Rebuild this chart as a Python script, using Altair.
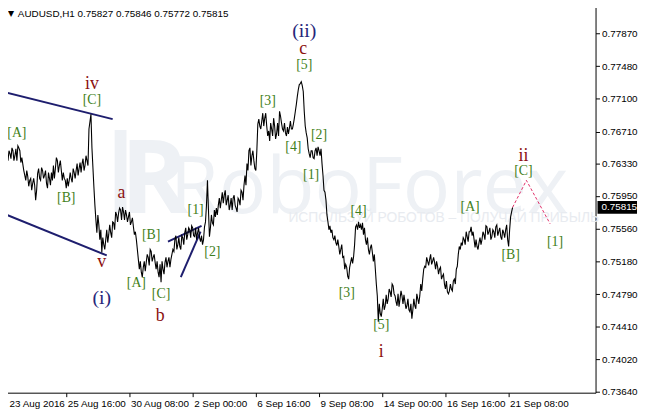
import altair as alt
import pandas as pd

# ---- price series (bar index, H1 close): main swing points ----
bars_main = [0,2,4,6,7,10,12,15,17,19,22,24,27,30,32,33,35,37,40,42,44,47,50,53,55,57,59,62,64,67,69,72,74,77,80,83,85,87,89,90,92,94,95,97,99,100,102,104,107,109,112,115,117,119,122,125,127,130,132,134,135,137,140,142,145,147,150,152,154,157,160,162,164,167,170,172,174,177,179,182,184,187,189,192,194,197,200,202,204,207,209,212,215,218,221,224,227,230,233,236,239,242,244,247,250,252,254,256,258,260,262,265,267,269,270,272,274,277,280,282,284,287,289,292,294,297,300,302,304,305,308,310,312,314,317,320,323,325,327,330,332,334,337,340,342,345,347,349,352,355,357,360,362,364,367,370,372,374,377,379,380,382,384,387,390,392,395,397,399,402,404,407,409,412,414,417,420,422,425,427,430,432,435,437,440,442,445,447,450,452,454,457,460,462,464,467,470,472,474,477,480,482,485,487,490,492,495,497,499,502,504,507,509,511,512,514,516]
closes_main = [0.76367,0.76460,0.76402,0.76484,0.76449,0.76484,0.76425,0.76542,0.76484,0.76402,0.76192,0.76250,0.76134,0.76099,0.76076,0.75901,0.76215,0.76157,0.76250,0.76192,0.76099,0.76157,0.76134,0.76274,0.76367,0.76309,0.76250,0.76157,0.76041,0.76134,0.76157,0.76227,0.76250,0.76274,0.76332,0.76309,0.76367,0.76740,0.76915,0.76518,0.76052,0.75668,0.75516,0.75609,0.75551,0.75283,0.75376,0.75435,0.75493,0.75516,0.75633,0.75726,0.75749,0.75784,0.75761,0.75726,0.75703,0.75644,0.75586,0.75528,0.75435,0.75201,0.75050,0.75108,0.75166,0.75225,0.75295,0.75225,0.75166,0.75050,0.74933,0.75085,0.75166,0.75178,0.75201,0.75318,0.75435,0.75376,0.75353,0.75458,0.75516,0.75493,0.75551,0.75574,0.75470,0.75516,0.75411,0.75376,0.75586,0.76134,0.75470,0.75633,0.75703,0.75842,0.75901,0.75959,0.75901,0.75842,0.75924,0.75807,0.75901,0.75994,0.76076,0.76332,0.76518,0.76425,0.76367,0.76250,0.76798,0.76775,0.76833,0.76868,0.76775,0.76717,0.76600,0.76740,0.76868,0.76682,0.76950,0.76810,0.76717,0.76658,0.76682,0.76740,0.76798,0.77031,0.77264,0.77299,0.77183,0.76950,0.76635,0.76449,0.76484,0.76402,0.76518,0.76484,0.76332,0.76017,0.75901,0.75551,0.75516,0.75458,0.75400,0.75353,0.75318,0.75236,0.75143,0.75003,0.75166,0.75236,0.75586,0.75644,0.75609,0.75633,0.75435,0.75318,0.75341,0.75283,0.75085,0.74770,0.74467,0.74560,0.74619,0.74654,0.74735,0.74817,0.74887,0.74770,0.74654,0.74735,0.74770,0.74700,0.74654,0.74584,0.74502,0.74654,0.74735,0.74770,0.74968,0.75120,0.75178,0.75201,0.75178,0.75166,0.75120,0.75085,0.75003,0.74910,0.74817,0.74829,0.74852,0.74968,0.75120,0.75353,0.75400,0.75435,0.75470,0.75528,0.75586,0.75435,0.75353,0.75400,0.75435,0.75493,0.75586,0.75528,0.75470,0.75528,0.75586,0.75528,0.75470,0.75516,0.75551,0.75435,0.75353,0.75703,0.75815]

# ---- intermediate hourly wiggles read between the swing points ----
bars_fine = [1,3,5,8,9,11,13,14,16,18,21,23,25,26,28,29,31,34,36,38,39,41,43,45,46,48,49,51,52,54,56,58,60,61,63,65,66,68,70,71,73,75,76,78,79,81,82,84,86,
             93,96,98,101,103,105,106,108,110,111,113,114,116,118,120,121,123,124,126,128,129,131,133,
             138,139,141,143,144,146,148,149,151,153,155,156,158,159,161,163,165,166,168,169,171,173,175,176,178,180,181,183,185,186,188,190,191,193,195,196,198,199,201,203,205,206,208,210,211,213,214,
             216,217,219,220,222,223,225,226,228,229,231,232,234,235,237,238,240,241,243,245,246,
             248,249,251,253,255,257,259,261,263,264,266,268,271,273,275,276,278,279,281,283,285,286,288,290,291,293,295,296,298,299,301,303,306,307,309,311,313,315,316,318,319,321,322,324,326,
             328,329,331,333,335,336,338,339,341,343,344,346,348,350,351,353,354,356,358,359,361,363,365,366,368,369,371,373,375,376,378,
             381,383,385,386,388,389,391,393,394,396,398,400,401,403,405,406,408,410,411,413,415,416,418,419,421,423,424,426,428,429,431,433,434,436,438,439,441,443,444,446,448,449,451,453,455,456,458,459,461,463,465,466,468,469,471,473,475,476,478,479,481,483,484,486,488,489,491,493,494,496,498,500,501,503,505,506,508,510,513,515]
closes_fine = [0.76309,0.76507,0.76367,0.76390,0.76518,0.76367,0.76507,0.76367,0.76518,0.76344,0.76250,0.76134,0.76181,0.76064,0.76157,0.76017,0.76157,0.76017,0.76274,0.76134,0.76285,0.76157,0.76250,0.76041,0.76227,0.76076,0.76227,0.76309,0.76157,0.76402,0.76227,0.76367,0.76134,0.76227,0.76134,0.76157,0.76064,0.76227,0.76111,0.76274,0.76157,0.76332,0.76192,0.76344,0.76227,0.76390,0.76250,0.76425,0.76309,
               0.75842,0.75726,0.75435,0.75458,0.75318,0.75551,0.75400,0.75609,0.75458,0.75644,0.75551,0.75761,0.75644,0.75807,0.75668,0.75819,0.75668,0.75784,0.75644,0.75761,0.75609,0.75691,0.75493,
               0.75085,0.75178,0.74992,0.75178,0.75062,0.75260,0.75131,0.75318,0.75178,0.75260,0.75085,0.75178,0.74992,0.75143,0.75178,0.75027,0.75225,0.75108,0.75225,0.75108,0.75260,0.75295,0.75481,0.75318,0.75458,0.75318,0.75481,0.75376,0.75574,0.75435,0.75574,0.75458,0.75598,0.75481,0.75574,0.75435,0.75574,0.75458,0.75481,0.75435,0.75644,0.75842,0.75784,0.75574,0.75726,0.75609,0.75784,
               0.75807,0.75726,0.75924,0.75807,0.75994,0.75866,0.76017,0.75842,0.75959,0.75784,0.75924,0.75784,0.75959,0.75842,0.75761,0.75924,0.75842,0.76017,0.75901,0.76192,0.76076,
               0.76250,0.76484,0.76309,0.76484,0.76274,0.76484,0.76857,0.76740,0.76927,0.76775,0.76927,0.76658,0.76810,0.76658,0.76775,0.76623,0.76810,0.76658,0.76891,0.76740,0.76810,0.76694,0.76763,0.76752,0.76833,0.76740,0.76868,0.76950,0.77125,0.77206,0.77276,0.77253,0.76775,0.76694,0.76507,0.76402,0.76484,0.76390,0.76484,0.76425,0.76530,0.76425,0.76507,0.76192,0.75994,
               0.75726,0.75644,0.75598,0.75551,0.75435,0.75481,0.75365,0.75435,0.75260,0.75376,0.75225,0.75085,0.75108,0.74968,0.75108,0.75225,0.75155,0.75376,0.75609,0.75551,0.75574,0.75551,0.75493,0.75574,0.75376,0.75458,0.75260,0.75376,0.75178,0.75260,0.74910,
               0.74677,0.74525,0.74735,0.74607,0.74782,0.74677,0.74852,0.74759,0.74910,0.74794,0.74700,0.74794,0.74642,0.74829,0.74677,0.74782,0.74619,0.74735,0.74607,0.74677,0.74607,0.74735,0.74619,0.74794,0.74677,0.74910,0.74829,0.75085,0.75108,0.75225,0.75131,0.75260,0.75143,0.75225,0.75085,0.75178,0.75027,0.75108,0.74968,0.75027,0.74852,0.74945,0.74794,0.74910,0.74829,0.74945,0.74910,0.75085,0.75260,0.75318,0.75365,0.75458,0.75376,0.75528,0.75411,0.75528,0.75481,0.75528,0.75341,0.75435,0.75318,0.75458,0.75376,0.75528,0.75435,0.75598,0.75493,0.75574,0.75435,0.75551,0.75458,0.75609,0.75481,0.75574,0.75435,0.75551,0.75458,0.75609,0.75551,0.75761]

# ---- projection (dashed) ----
proj_bars = [516, 530, 554]
proj_prices = [0.75815, 0.76134, 0.75621]

# ---- trend / channel lines: (id, bar, price) ----
line_ids = ["up", "up", "lo", "lo", "w1", "w1", "w2", "w2"]
line_bars = [-1, 111, -1, 105, 167, 201, 180, 200]
line_prices = [0.77183, 0.76857, 0.75749, 0.75248, 0.75411, 0.75598, 0.74992, 0.75528]

# ---- wave labels ----
lab_text = ["iv", "[C]", "[A]", "[B]", "v", "(i)", "a", "[B]", "[A]", "[C]", "b", "[1]", "[2]",
            "(ii)", "c", "[5]", "[3]", "[4]", "[2]", "[1]", "[4]", "[3]", "[5]", "i",
            "[A]", "[B]", "ii", "[C]", "[1]"]
lab_bar = [90, 90, 14, 64, 100, 100, 120, 150, 135, 160, 159, 195, 212,
           305, 304, 305, 268, 294, 320, 312, 360, 348, 383, 383,
           473, 514, 527, 527, 559]
lab_price = [0.77276, 0.77078, 0.76693, 0.75924, 0.75166, 0.74747, 0.75982, 0.75493, 0.74922, 0.74794, 0.74537, 0.75784, 0.75283,
             0.77894, 0.77684, 0.77497, 0.77066, 0.76530, 0.76670, 0.76192, 0.75773, 0.74805, 0.74421, 0.74106,
             0.75819, 0.75248, 0.76425, 0.76239, 0.75411]
lab_kind = ["r", "g", "g", "g", "r", "n", "r", "g", "g", "g", "r", "g", "g",
            "n", "r", "g", "g", "g", "g", "g", "g", "g", "g", "r",
            "g", "g", "r", "g", "g"]

xtick_vals = [0, 64, 128, 192, 256, 320, 384, 448, 512]
xtick_labels = ["23 Aug 2016", "25 Aug 16:00", "30 Aug 08:00", "2 Sep 00:00", "6 Sep 16:00",
                "9 Sep 08:00", "14 Sep 00:00", "16 Sep 16:00", "21 Sep 08:00"]
ytick_vals = [0.73640, 0.74020, 0.74410, 0.74790, 0.75180, 0.75560, 0.75950,
              0.76330, 0.76710, 0.77100, 0.77480, 0.77870]
last_price = 0.75815
header = "AUDUSD,H1  0.75827 0.75846 0.75772 0.75815"

W, H = 601, 394
xs = alt.Scale(domain=[-1, 600], nice=False, zero=False)
ys = alt.Scale(domain=[0.73628, 0.78220], nice=False, zero=False)

price_df = pd.DataFrame({"bar": bars_main + bars_fine, "close": closes_main + closes_fine}).sort_values("bar")
proj_df = pd.DataFrame({"bar": proj_bars, "close": proj_prices})
lines_df = pd.DataFrame({"id": line_ids, "bar": line_bars, "close": line_prices})
lab_df = pd.DataFrame({"t": lab_text, "bar": lab_bar, "close": lab_price, "k": lab_kind})

lbl_js = "[" + ",".join("'%s'" % s for s in xtick_labels) + "][round(datum.value/64)]"

X = alt.X("bar:Q", scale=xs, title=None,
          axis=alt.Axis(orient="bottom", values=xtick_vals, labelExpr=lbl_js, grid=False,
                        domain=False, tickSize=4, tickColor="black", labelAlign="left",
                        labelOffset={"condition": {"test": "datum.value == 0", "value": 6}, "value": 1},
                        labelPadding=2, labelFlush=False, labelOverlap=False, labelBound=False,
                        labelFont="Liberation Sans", labelFontSize=10, labelColor="black"))
Y = alt.Y("close:Q", scale=ys, title=None,
          axis=alt.Axis(orient="right", values=ytick_vals, format=".5f", grid=False,
                        domain=False, tickSize=4, tickColor="black", labelPadding=2,
                        labelFlush=False, labelOverlap=False, labelBound=False,
                        labelFont="Liberation Sans", labelFontSize=10, labelColor="black"))

# watermark
wm_df = pd.DataFrame({"t": ["RoboForex"], "r": ["R"]})
wm = alt.Chart(wm_df).mark_text(font="Open Sans", fontSize=80, color="#eef1f5", align="left",
                                baseline="alphabetic").encode(
    x=alt.value(170), y=alt.value(212), text="t:N")
wm_logo_bar = alt.Chart(wm_df).mark_rect(color="#eef1f5").encode(
    x=alt.value(114), x2=alt.value(126), y=alt.value(128), y2=alt.value(212))
wm_logo = alt.Chart(wm_df).mark_text(font="Open Sans", fontWeight="bold", fontSize=104,
                                     color="#eef1f5", align="left", baseline="alphabetic").encode(
    x=alt.value(120), y=alt.value(212), text="r:N")
wm2_df = pd.DataFrame({"t": ["ИСПОЛЬЗУЙ РОБОТОВ – ПОЛУЧАЙ ПРИБЫЛЬ"]})
wm2 = alt.Chart(wm2_df).mark_text(font="Liberation Sans", fontSize=14, color="#e8ebf0",
                                  align="left", baseline="middle").encode(
    x=alt.value(290), y=alt.value(217), text="t:N")

chan = alt.Chart(lines_df).mark_line(color="#1e1e6e", strokeWidth=2).encode(
    x=X, y=Y, detail="id:N")

price = alt.Chart(price_df).mark_line(color="black", strokeWidth=1.1, interpolate="linear").encode(
    x=X, y=Y, order="bar:Q")

proj = alt.Chart(proj_df).mark_line(color="#e0306a", strokeWidth=1, strokeDash=[3, 2]).encode(
    x=X, y=Y)

def lab_layer(kind, color, size):
    return alt.Chart(lab_df).transform_filter(alt.datum.k == kind).mark_text(
        font="Liberation Serif", fontSize=size, color=color, baseline="middle", align="center"
    ).encode(x=X, y=Y, text="t:N")

labs_g = lab_layer("g", "#3f7f20", 14)
labs_r = lab_layer("r", "#8b1010", 18)
labs_n = lab_layer("n", "#26267a", 20)

last_df = pd.DataFrame({"close": [last_price], "t": ["%.5f" % last_price]})
last_box = alt.Chart(last_df).mark_tick(color="black", thickness=13, size=40, opacity=1).encode(
    x=alt.value(623), y=Y)
last_txt = alt.Chart(last_df).mark_text(color="white", font="Liberation Sans", fontSize=10,
                                        align="left", baseline="middle").encode(
    x=alt.value(607), y=Y, text="t:N")

hdr_df = pd.DataFrame({"t": [header], "tri": ["▼"]})
hdr = alt.Chart(hdr_df).mark_text(font="Liberation Sans", fontSize=10, color="black",
                                  align="left", baseline="middle").encode(
    x=alt.value(16), y=alt.value(11), text="t:N")
tri = alt.Chart(hdr_df).mark_text(font="DejaVu Sans", fontSize=8, color="black",
                                  align="left", baseline="middle").encode(
    x=alt.value(6), y=alt.value(11), text="tri:N")

chart = alt.layer(wm_logo_bar, wm_logo, wm, wm2, chan, price, proj, labs_g, labs_r, labs_n,
                  last_box, last_txt, hdr, tri).properties(
    width=W, height=H,
    autosize=alt.AutoSizeParams(type="none"),
    padding={"left": -6, "top": -7, "right": 43, "bottom": 19},
    background="white",
).configure_view(stroke="black", strokeWidth=1)

chart.save("out.html", embed_options={"renderer": "svg", "actions": False})
